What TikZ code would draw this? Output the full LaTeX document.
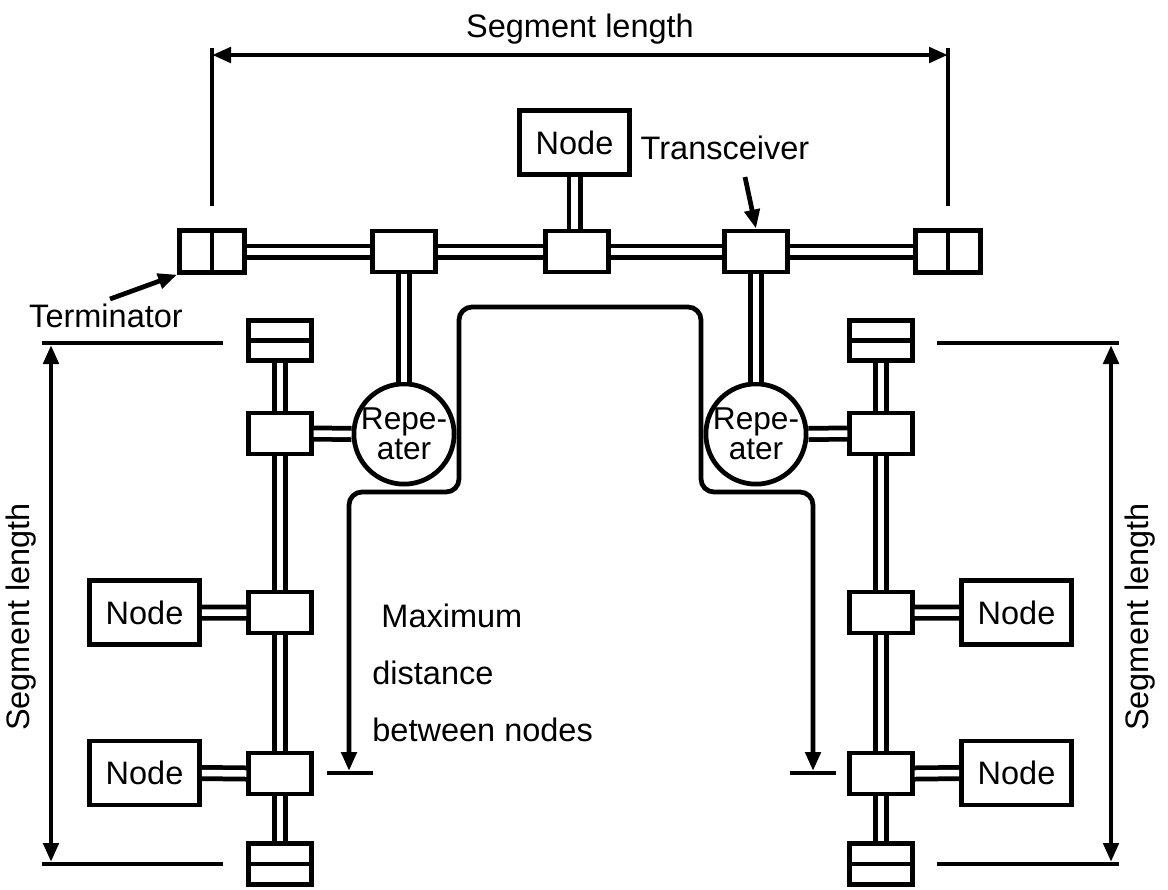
\documentclass[tikz,border=0pt]{standalone}
\usepackage{fontspec}
\setmainfont{Liberation Sans}
\usetikzlibrary{arrows.meta}

\begin{document}
\begin{tikzpicture}[x=0.02cm, y=-0.02cm, line width=0.095cm,
  every node/.style={font=\fontsize{18.5}{22}\selectfont},
  xcvr/.style={draw, fill=white, minimum width=1.25cm, minimum height=0.82cm, inner sep=0pt},
  termh/.style={draw, fill=white, minimum width=1.3cm, minimum height=0.83cm, inner sep=0pt},
  termv/.style={draw, fill=white, minimum width=1.25cm, minimum height=0.81cm, inner sep=0pt},
  station/.style={draw, fill=white, minimum width=2.2cm, minimum height=1.28cm, inner sep=0pt},
  repeater/.style={draw, circle, fill=white, minimum size=1.74cm, inner sep=0pt, align=center, font=\fontsize{18}{17}\selectfont},
  cable/.style={double, double distance=0.13cm},
  pointer/.style={-{Triangle[length=0.38cm,width=0.3cm]}},
  dimarrow/.style={{Triangle[length=0.38cm,width=0.3cm]}-{Triangle[length=0.38cm,width=0.3cm]}}]
\useasboundingbox (0,0) rectangle (1168,889);

\node[termh] (tl) at (212,251.5) {};
\node[xcvr] (t1) at (404,251.5) {};
\node[xcvr] (t2) at (577,251.5) {};
\node[xcvr] (t3) at (756,251.5) {};
\node[termh] (tr) at (948,251.5) {};
\node[station] (ntop) at (574.5,142.5) {Node};

\node[termv] (lt) at (280,340.5) {};
\node[xcvr] (l1) at (280,433.5) {};
\node[xcvr] (l2) at (280,612.5) {};
\node[xcvr] (l3) at (280,773.5) {};
\node[termv] (lb) at (280,864) {};
\node[station] (ln1) at (144.5,612.5) {Node};
\node[station] (ln2) at (144.5,773) {Node};
\node[repeater] (rl) at (404,434) {Repe-\\ater};

\node[termv] (rt) at (881,340.5) {};
\node[xcvr] (r1) at (881,433.5) {};
\node[xcvr] (r2) at (881,612.5) {};
\node[xcvr] (r3) at (881,773.5) {};
\node[termv] (rb) at (881,864) {};
\node[station] (rn1) at (1016.5,612.5) {Node};
\node[station] (rn2) at (1016.5,773) {Node};
\node[repeater] (rr) at (756,434) {Repe-\\ater};

\foreach \t in {tl,tr} \draw (\t.north) -- (\t.south);
\foreach \t in {lt,lb,rt,rb} \draw (\t.west) -- (\t.east);

\draw[cable] (tl.east) -- (t1.west) (t1.east) -- (t2.west) (t2.east) -- (t3.west) (t3.east) -- (tr.west);
\draw[cable] (ntop.south) -- (ntop.south |- t2.north);
\draw[cable] (t1.south) -- (rl.north) (t3.south) -- (rr.north);
\draw[cable] (lt.south) -- (l1.north) (l1.south) -- (l2.north) (l2.south) -- (l3.north) (l3.south) -- (lb.north);
\draw[cable] (rt.south) -- (r1.north) (r1.south) -- (r2.north) (r2.south) -- (r3.north) (r3.south) -- (rb.north);
\draw[cable] (l1.east) -- (rl.west) (ln1.east) -- (l2.west) (ln2.east) -- (l3.west);
\draw[cable] (r1.west) -- (rr.east) (rn1.west) -- (r2.east) (rn2.west) -- (r3.east);

\draw (212,48) -- (212,206) (948,48) -- (948,206);
\draw[dimarrow] (212,55) -- (948,55);
\node (toplen) at (580,29) {Segment length};

\draw (42,343) -- (223,343) (42,864) -- (223,864);
\draw[dimarrow] (51,345) -- (51,862);
\node[rotate=90] (leftlen) at (21,617) {Segment length};

\draw (937,343) -- (1119,343) (937,864) -- (1119,864);
\draw[dimarrow] (1111,345) -- (1111,862);
\node[rotate=90] (rightlen) at (1140,617) {Segment length};

\node (lblterm) at (106,316) {Terminator};
\draw[pointer] (110,299) -- (tl.south west);
\node (lbltx) at (725,148) {Transceiver};
\draw[pointer] (745,177) -- (t3.north);

\draw[dimarrow, rounded corners=0.26cm] (349,771) -- (349,492) -- (459,492) -- (459,307) -- (701,307) -- (701,492) -- (813,492) -- (813,771);
\draw (327,773) -- (373,773) (790,773) -- (836,773);
\node[anchor=north west, inner sep=0pt, align=left, font=\fontsize{18.5}{32.3}\selectfont] (maxtxt) at (370,602) {\hspace*{0.28em}Maximum\\distance\\between nodes};
\end{tikzpicture}
\end{document}
